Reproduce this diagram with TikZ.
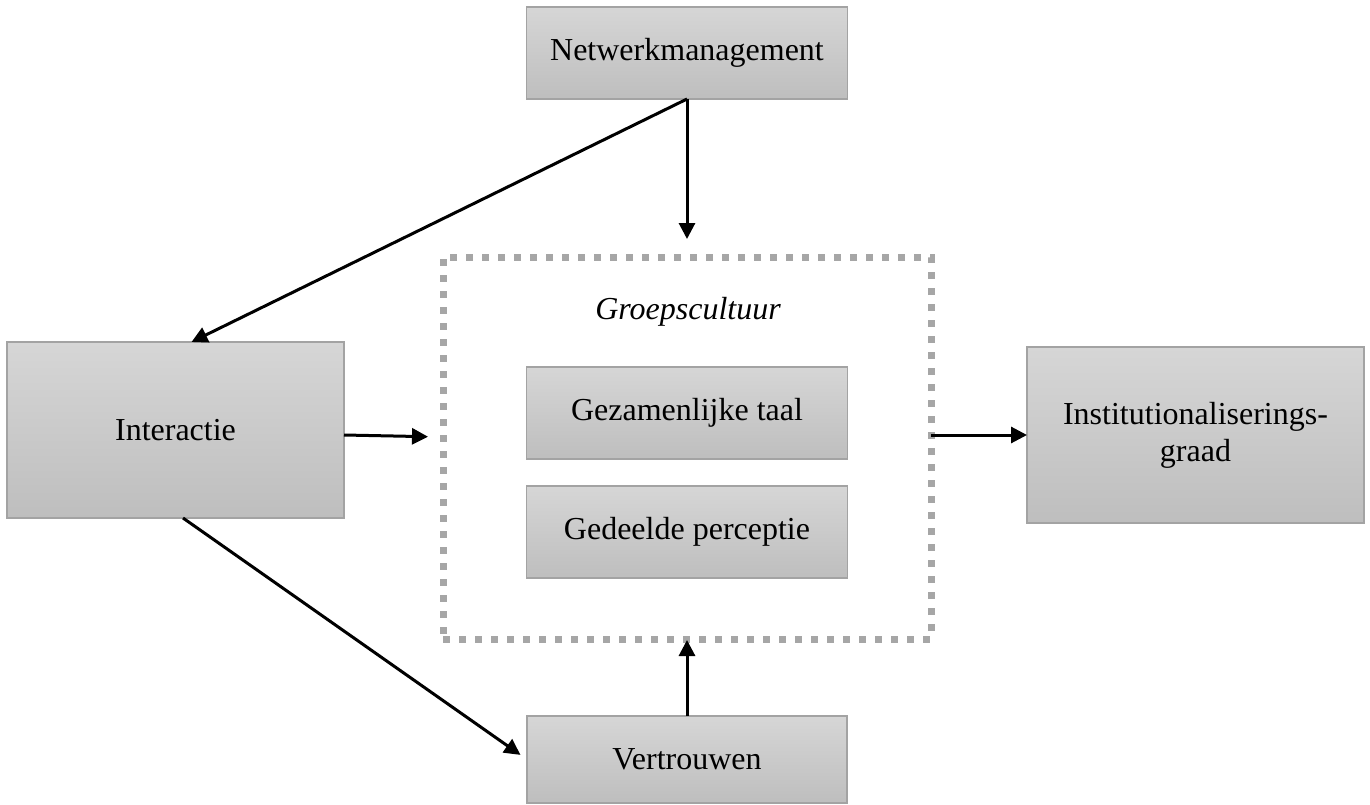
\documentclass[tikz,border=0pt]{standalone}
\usepackage{fontspec}
\setmainfont{Liberation Serif}
\usetikzlibrary{arrows.meta,calc}
\definecolor{boxtop}{HTML}{D6D6D6}
\definecolor{boxbot}{HTML}{BEBEBE}
\definecolor{boxline}{HTML}{A3A3A3}
\definecolor{dotgray}{HTML}{A6A6A6}
\tikzset{
  box/.style={rectangle, draw=boxline, line width=1.5pt, top color=boxtop, bottom color=boxbot,
    inner sep=0pt, outer sep=0pt, align=center, font=\fontsize{32}{37}\selectfont},
  groupbox/.style={rectangle, draw=dotgray, line width=7pt, dash pattern=on 7pt off 9pt,
    inner sep=0pt, outer sep=0pt},
  conn/.style={line width=3pt, -{Triangle[length=16pt,width=16pt]}}
}
\begin{document}
\begin{tikzpicture}[x=1pt,y=-1pt]
\useasboundingbox (0,0) rectangle (1370,805);
\node[groupbox, minimum width=488pt, minimum height=382pt] (grp) at (687,448) {};
\node[font=\fontsize{32}{37}\selectfont\itshape] (grptitle) at (688,312) {Groepscultuur};
\node[box, minimum width=321pt, minimum height=92pt] (netw) at (687,53) {Netwerkmanagement};
\node[box, minimum width=337pt, minimum height=176pt] (inter) at (175.5,430) {Interactie};
\node[box, minimum width=321pt, minimum height=92pt] (gez) at (687,413) {Gezamenlijke taal};
\node[box, minimum width=321pt, minimum height=92pt] (ged) at (687,532) {Gedeelde perceptie};
\node[box, minimum width=337pt, minimum height=176pt] (inst) at (1195.5,435) {Institutionaliserings-\\graad};
\node[box, minimum width=320pt, minimum height=87pt] (vert) at (687,759.5) {Vertrouwen};
\draw[conn, shorten >=18pt] (netw.south) -- (grp.north);
\draw[conn] (netw.south) -- ([xshift=16pt]inter.north);
\draw[conn, shorten >=15pt] ([yshift=-5pt]inter.east) -- ([yshift=11pt]grp.west);
\draw[conn, shorten >=8pt] ([xshift=7.5pt]inter.south) -- (vert.west);
\draw[conn, shorten >=1pt] (vert.north) -- (grp.south);
\draw[conn] (grp.east |- inst.west) -- (inst.west);
\end{tikzpicture}
\end{document}
